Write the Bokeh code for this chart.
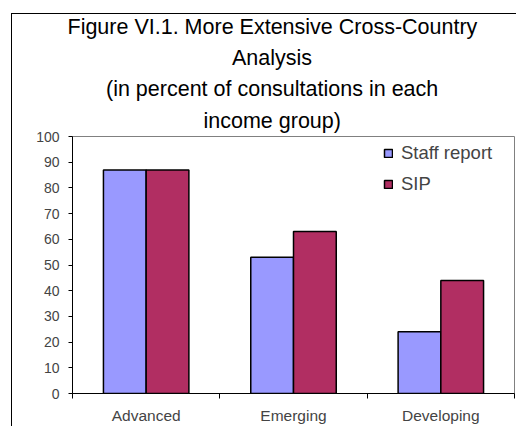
from bokeh.plotting import figure
from bokeh.models import (ColumnDataSource, Range1d, FixedTicker, Legend, LegendItem, Title)
from bokeh.transform import dodge
from bokeh.embed import file_html
from bokeh.resources import INLINE

categories = ["Advanced", "Emerging", "Developing"]
staff_report = [87, 53, 24]
sip = [87, 63, 44]
series_names = ["Staff report", "SIP"]
y_ticks = list(range(0, 101, 10))
title_lines = ["Figure VI.1. More Extensive Cross-Country", "Analysis",
               "(in percent of consultations in each", "income group)"]

FONT = "Liberation Sans"
centers = [i + 0.5 for i in range(len(categories))]
src = ColumnDataSource(dict(x=centers, staff=staff_report, sip=sip, cat=categories))

border_css = """
:host::after {
  content: "";
  position: absolute;
  left: 11px; top: 13px; right: 0; bottom: 0;
  border-left: 1px solid black;
  border-top: 1px solid black;
  pointer-events: none;
  z-index: 10;
}
"""

p = figure(width=516, height=426, output_backend="svg", toolbar_location=None,
           x_range=Range1d(0, len(categories)), y_range=Range1d(0, 100),
           min_border_left=72, min_border_right=2, min_border_bottom=31, min_border_top=136,
           stylesheets=[border_css])
p.title.text = ""
p.title.visible = False

r1 = p.vbar(x=dodge("x", -0.145, range=p.x_range), top="staff", width=0.29, source=src,
            fill_color="#9999FF", line_color="black", line_width=1.5)
r2 = p.vbar(x=dodge("x", 0.145, range=p.x_range), top="sip", width=0.29, source=src,
            fill_color="#B12E62", line_color="black", line_width=1.5)

p.xgrid.visible = False
p.ygrid.visible = False
p.outline_line_color = "#808080"
p.outline_line_width = 1

# y axis
ya = p.yaxis[0]
ya.ticker = FixedTicker(ticks=y_ticks)
ya.major_tick_out = 4
ya.major_tick_in = 0
ya.minor_tick_out = 0
ya.minor_tick_in = 0
ya.major_label_standoff = 9
ya.major_label_text_font = FONT
ya.major_label_text_font_size = "14px"
ya.axis_line_color = "black"
ya.major_tick_line_color = "black"

# x axis: labels at category centres, ticks at boundaries
xa = p.xaxis[0]
xa.ticker = FixedTicker(ticks=centers, minor_ticks=list(range(len(categories) + 1)))
xa.major_label_overrides = {c: name for c, name in zip(centers, categories)}
xa.major_tick_out = 0
xa.major_tick_in = 0
xa.minor_tick_out = 5
xa.minor_tick_in = 0
xa.minor_tick_line_color = "black"
xa.major_label_standoff = 8
xa.axis_label_standoff = 0
xa.major_label_text_font = FONT
xa.major_label_text_font_size = "15.5px"
xa.axis_line_color = "black"

legend = Legend(items=[LegendItem(label=series_names[0], renderers=[r1]),
                       LegendItem(label=series_names[1], renderers=[r2])],
                location=(311, 198), orientation="vertical")
legend.padding = 0
legend.margin = 0
legend.spacing = 9
legend.glyph_width = 10
legend.glyph_height = 10
legend.label_height = 20
legend.label_standoff = 8
legend.label_text_font = FONT
legend.label_text_font_size = "18.5px"
legend.border_line_color = None
legend.background_fill_alpha = 0
p.add_layout(legend, "center")

# chart title: one Title per line, nearest-to-frame first; left offsets centre each line
title_offsets = [-5, 159.5, 33.5, 131]
title_standoffs = [4.5, 4.5, 4.5, 7]
for line, off, so in reversed(list(zip(title_lines, title_offsets, title_standoffs))):
    p.add_layout(Title(text=line, align="left", offset=off, standoff=so,
                       text_font=FONT, text_font_size="21.5px", text_font_style="normal",
                       text_color="black"), "above")

open("out.html", "w").write(file_html(p, INLINE))
